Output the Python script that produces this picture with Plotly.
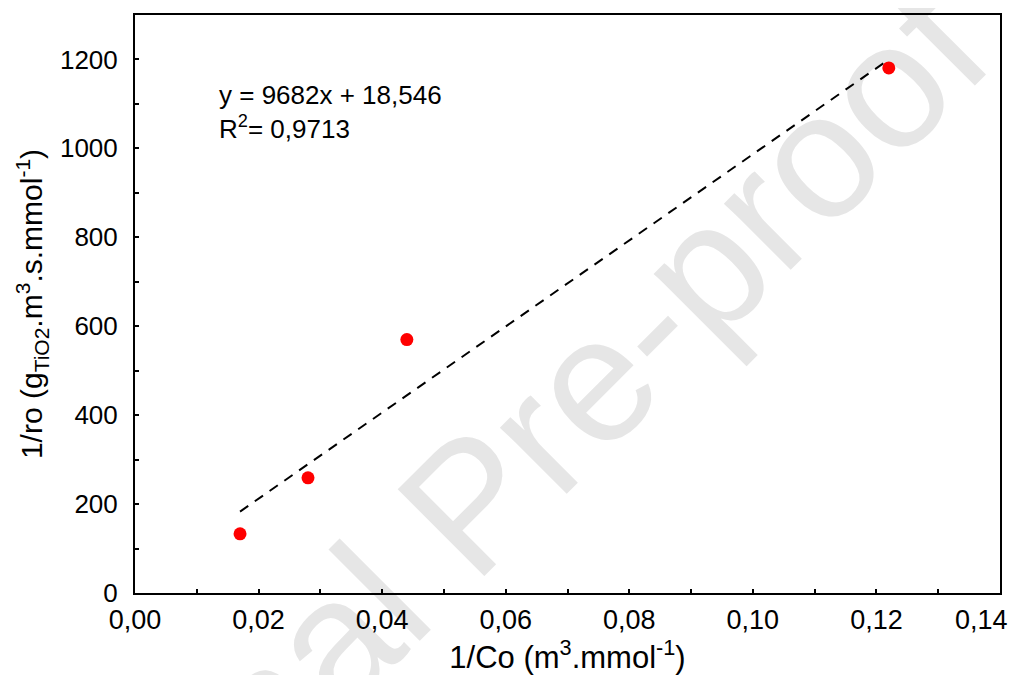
import plotly.graph_objects as go

# Data
inv_co = [0.0170, 0.0280, 0.0440, 0.1220]          # 1/Co (m3.mmol-1)
inv_ro = [133, 259, 570, 1181]                       # 1/ro
slope = 9682
intercept = 18.546
r2_text = "0,9713"
x_ticks = [0.00, 0.02, 0.04, 0.06, 0.08, 0.10, 0.12, 0.14]
x_ticktext = ["0,00", "0,02", "0,04", "0,06", "0,08", "0,10", "0,12",
              "0,14" + "\u00a0" * 5]
y_ticks = [0, 200, 400, 600, 800, 1000, 1200]

trend_x = [min(inv_co), max(inv_co)]
trend_y = [slope * v + intercept for v in trend_x]

fig = go.Figure()
fig.add_trace(go.Scatter(x=trend_x, y=trend_y, mode="lines",
                         line=dict(color="black", width=2, dash="10px,8px"),
                         showlegend=False, hoverinfo="skip"))
fig.add_trace(go.Scatter(x=inv_co, y=inv_ro, mode="markers",
                         marker=dict(color="#ff0000", size=13, line=dict(width=0)),
                         showlegend=False))

font_main = "Liberation Sans, Arial"
fig.update_layout(
    width=1011, height=667,
    margin=dict(l=127, r=19, t=7, b=82),
    paper_bgcolor="white", plot_bgcolor="rgba(0,0,0,0)",
    font=dict(family=font_main, color="black"),
    showlegend=False,
)
fig.update_xaxes(
    range=[0, 0.14000001], tickvals=x_ticks, ticktext=x_ticktext,
    showgrid=False, zeroline=False, automargin=False,
    showline=True, linecolor="black", linewidth=2, mirror=True,
    ticks="inside", ticklen=4, tickwidth=1.5, tickcolor="black",
    minor=dict(dtick=0.01, ticks="inside", ticklen=4, tickwidth=1.5, tickcolor="black"),
    tickfont=dict(family=font_main, size=27, color="black"),
    ticklabelstandoff=2, ticklabeloverflow="allow",
    title=dict(text="1/Co (m<sup>3</sup>.mmol<sup>-1</sup>)",
               font=dict(family=font_main, size=31, color="black"), standoff=10),
)
fig.update_yaxes(
    range=[0, 1300], tickvals=y_ticks,
    showgrid=False, zeroline=False, automargin=False,
    showline=True, linecolor="black", linewidth=2, mirror=True,
    ticks="inside", ticklen=4, tickwidth=1.5, tickcolor="black",
    minor=dict(dtick=100, ticks="inside", ticklen=4, tickwidth=1.5, tickcolor="black"),
    tickfont=dict(family=font_main, size=26, color="black"),
    ticklabelstandoff=10,
    title=dict(text="1/ro (g<sub>TiO2</sub>.m<sup>3</sup>.s.mmol<sup>-1</sup>)",
               font=dict(family=font_main, size=30, color="black"), standoff=8),
)

fig.add_annotation(
    xref="paper", yref="paper", x=0.0948, y=0.832,
    xanchor="left", yanchor="middle", align="left", showarrow=False,
    text=f"y = {slope}x + 18,546<br>R<sup>2</sup>= {r2_text}",
    font=dict(family=font_main, size=26, color="black"),
)

# Watermark behind the chart
fig.add_shape(
    type="rect", xref="paper", yref="paper",
    x0=0.3713, x1=0.3733, y0=0.173, y1=0.175,
    line=dict(width=0), fillcolor="rgba(0,0,0,0)", layer="below",
    label=dict(text="Journal Pre-proof", textangle=-45, textposition="middle center",
               font=dict(family=font_main, size=178, color="#e6e6e6")),
)

fig.write_html("out.html")
